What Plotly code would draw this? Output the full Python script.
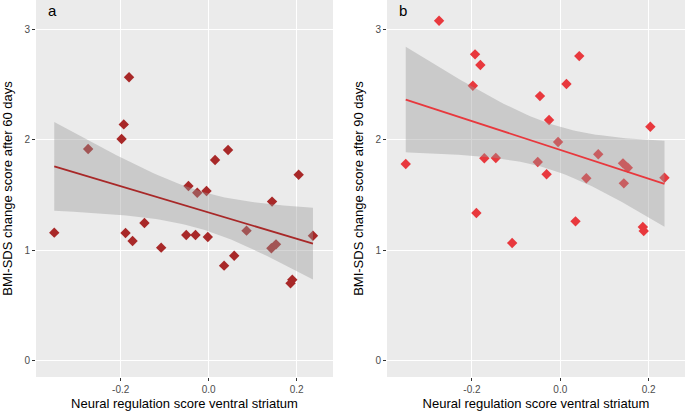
import numpy as np
import plotly.graph_objects as go
from plotly.subplots import make_subplots

# Panel a: neural regulation score vs BMI-SDS change after 60 days
x_60 = [-0.351, -0.274, -0.198, -0.193, -0.189, -0.181, -0.173, -0.146, -0.108,
        -0.051, -0.046, -0.030, -0.026, -0.005, -0.002, 0.0145, 0.035, 0.044,
        0.058, 0.086, 0.1425, 0.144, 0.153, 0.186, 0.190, 0.2045, 0.237]
y_60 = [1.159, 1.916, 2.006, 2.139, 1.156, 2.565, 1.083, 1.246, 1.023,
        1.138, 1.581, 1.138, 1.520, 1.536, 1.120, 1.816, 0.860, 1.907,
        0.950, 1.177, 1.017, 1.440, 1.053, 0.700, 0.733, 1.683, 1.131]

# Panel b: neural regulation score vs BMI-SDS change after 90 days
x_90 = [-0.350, -0.2745, -0.198, -0.193, -0.190, -0.181, -0.172, -0.146, -0.109,
        -0.051, -0.046, -0.031, -0.0254, -0.005, 0.014, 0.0345, 0.043, 0.059,
        0.086, 0.142, 0.144, 0.153, 0.187, 0.189, 0.204, 0.236]
y_90 = [1.780, 3.077, 2.489, 2.773, 1.337, 2.676, 1.832, 1.834, 1.065,
        1.798, 2.395, 1.687, 2.178, 1.979, 2.504, 1.261, 2.757, 1.651,
        1.868, 1.786, 1.605, 1.747, 1.210, 1.174, 2.118, 1.656]

y_ticks = [0, 1, 2, 3]
x_ticks = [-0.2, 0.0, 0.2]
x_tick_text = ["-0.2", "0.0", "0.2"]

# two-sided 95% t quantiles for the residual degrees of freedom
T_CRIT = {24: 2.0639, 25: 2.0595}


def lm_band(x, y, n_grid=80):
    """Linear fit with 95% confidence band, like geom_smooth(method='lm')."""
    x = np.asarray(x)
    y = np.asarray(y)
    n = len(x)
    b1, b0 = np.polyfit(x, y, 1)
    resid = y - (b0 + b1 * x)
    s = np.sqrt(np.sum(resid ** 2) / (n - 2))
    xg = np.linspace(x.min(), x.max(), n_grid)
    yg = b0 + b1 * xg
    se = s * np.sqrt(1 / n + (xg - x.mean()) ** 2 / np.sum((x - x.mean()) ** 2))
    t = T_CRIT[n - 2]
    return xg, yg, yg - t * se, yg + t * se


fig = make_subplots(rows=1, cols=2, horizontal_spacing=0.083)

panels = [
    (x_60, y_60, "#A82828", "BMI-SDS change score after 60 days", "a"),
    (x_90, y_90, "#E8383D", "BMI-SDS change score after 90 days", "b"),
]

for i, (xs, ys, col, ytitle, tag) in enumerate(panels, start=1):
    fig.add_trace(go.Scatter(
        x=xs, y=ys, mode="markers",
        marker=dict(symbol="diamond", size=8, color=col),
        showlegend=False, hoverinfo="x+y"
    ), row=1, col=i)

    # confidence ribbon drawn over the points, then the fit line
    xg, yg, lo, hi = lm_band(xs, ys)
    fig.add_trace(go.Scatter(
        x=np.concatenate([xg, xg[::-1]]),
        y=np.concatenate([hi, lo[::-1]]),
        fill="toself", fillcolor="rgba(153,153,153,0.4)",
        line=dict(width=0), mode="lines",
        showlegend=False, hoverinfo="skip"
    ), row=1, col=i)
    fig.add_trace(go.Scatter(
        x=xg, y=yg, mode="lines",
        line=dict(color=col, width=1.8),
        showlegend=False, hoverinfo="skip"
    ), row=1, col=i)

    fig.update_xaxes(
        range=[-0.3925, 0.2825], tickvals=x_ticks, ticktext=x_tick_text,
        title_text="Neural regulation score ventral striatum",
        row=1, col=i
    )
    fig.update_yaxes(
        range=[-0.148, 3.265], tickvals=y_ticks,
        title_text=ytitle, row=1, col=i
    )
    fig.add_annotation(
        text=tag, xref=f"x{'' if i == 1 else i} domain", yref="y domain",
        x=0.035, y=1.0, xanchor="left", yanchor="top", showarrow=False,
        font=dict(size=15, color="black")
    )

fig.update_xaxes(
    showgrid=True, gridcolor="white", gridwidth=1, zeroline=False,
    ticks="outside", ticklen=3, tickcolor="#333333",
    tickfont=dict(size=10, color="#4D4D4D"),
    title_font=dict(size=13, color="black"), title_standoff=4
)
fig.update_yaxes(
    showgrid=True, gridcolor="white", gridwidth=1, zeroline=False,
    ticks="outside", ticklen=3, tickcolor="#333333",
    tickfont=dict(size=10, color="#4D4D4D"),
    title_font=dict(size=13, color="black"), title_standoff=8
)

fig.update_layout(
    width=685, height=411,
    margin=dict(l=36, r=0, t=0, b=34),
    plot_bgcolor="#EBEBEB", paper_bgcolor="white",
    font=dict(family="Liberation Sans, Arial, sans-serif"),
)
fig.layout.xaxis.domain = [0, 0.4576]
fig.layout.xaxis2.domain = [0.5408, 1]

# drop the default page margin so the chart sits at the window's corner
fig.write_html("out.html", config={"displayModeBar": False},
               post_script="document.body.style.margin='0';")
